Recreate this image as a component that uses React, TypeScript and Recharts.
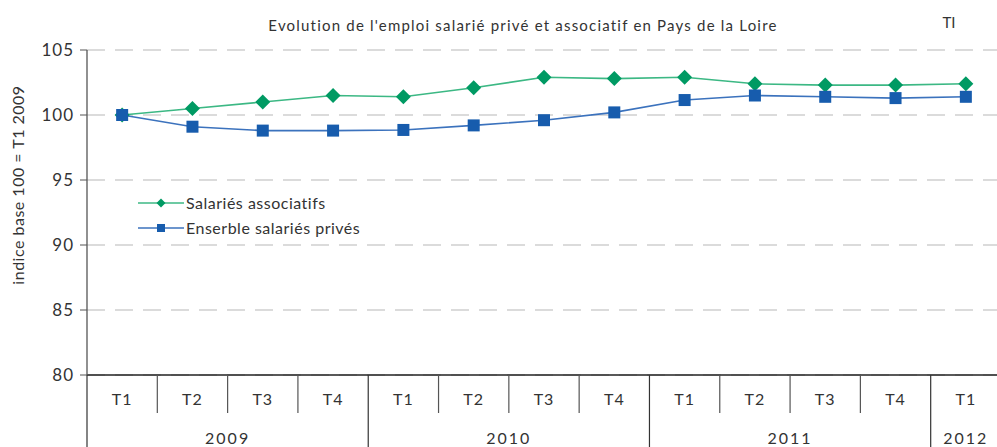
import React from "react";
import { CartesianGrid, Line, LineChart, XAxis, YAxis } from "recharts";

const quarters = ["T1", "T2", "T3", "T4", "T1", "T2", "T3", "T4", "T1", "T2", "T3", "T4", "T1"];
const years = ["2009", "2010", "2011", "2012"];
const yearSpans = [4, 4, 4, 1];
const associatifs = [100.0, 100.5, 101.0, 101.5, 101.4, 102.1, 102.9, 102.8, 102.9, 102.4, 102.3, 102.3, 102.4];
const prives = [100.0, 99.1, 98.8, 98.8, 98.85, 99.2, 99.6, 100.2, 101.15, 101.5, 101.4, 101.3, 101.4];
const yTicks = [80, 85, 90, 95, 100, 105];
const seriesNames = ["Salariés associatifs", "Enserble salariés privés"];

const data = quarters.map((q, i) => ({
  q: `${q}-${i}`,
  associatifs: associatifs[i],
  prives: prives[i],
}));

// index where each year starts
const yearStarts = yearSpans.reduce<number[]>((acc, _s, i) => {
  acc.push(i === 0 ? 0 : acc[i - 1] + yearSpans[i - 1]);
  return acc;
}, []);

const W = 1010;
const H = 447;
const LEFT = 87;
const RIGHT = 9;
const TOP = 50;
const XH = 72;
const STEP = (W - LEFT - RIGHT) / quarters.length;

const FONT = "Lato, 'DejaVu Sans', sans-serif";
const TEXT = "#333";
const GREEN = "#009a63";
const GREEN_LINE = "#3cb884";
const BLUE = "#175cad";
const BLUE_LINE = "#3b72bd";

function QuarterTick(props: any) {
  const { x, y, payload } = props;
  const i = payload.index as number;
  const left = x - STEP / 2;
  const yi = yearStarts.indexOf(i);
  return (
    <g>
      <line
        x1={left}
        x2={left}
        y1={y}
        y2={yi >= 0 ? H : y + 38}
        stroke={yi >= 0 ? "#333" : "#555"}
        strokeWidth={1.2}
      />
      <text x={x} y={y + 30} textAnchor="middle" fontSize={16} fill={TEXT} fontFamily={FONT} letterSpacing={1}>
        {quarters[i]}
      </text>
      {yi >= 0 && (
        <text
          x={left + (yearSpans[yi] * STEP) / 2}
          y={y + 69}
          textAnchor="middle"
          fontSize={16}
          fill={TEXT}
          fontFamily={FONT}
          letterSpacing={2}
        >
          {years[yi]}
        </text>
      )}
    </g>
  );
}

function Diamond(props: any) {
  const { cx, cy } = props;
  if (cx == null || cy == null) return <g />;
  const r = 7.5;
  return <path d={`M${cx},${cy - r}L${cx + r},${cy}L${cx},${cy + r}L${cx - r},${cy}Z`} fill={GREEN} />;
}

function Square(props: any) {
  const { cx, cy } = props;
  if (cx == null || cy == null) return <g />;
  return <rect x={cx - 6} y={cy - 6} width={12} height={12} fill={BLUE} />;
}

export default function App() {
  return (
    <div
      style={{
        position: "absolute",
        left: 0,
        top: 0,
        width: 997,
        height: H,
        overflow: "hidden",
        background: "#fff",
      }}
    >
      <LineChart width={W} height={H} data={data} margin={{ top: TOP, right: RIGHT, bottom: 0, left: 0 }}>
        <text x={523} y={31} textAnchor="middle" fontSize={15} fill={TEXT} fontFamily={FONT} letterSpacing={1.2}>
          Evolution de l'emploi salarié privé et associatif en Pays de la Loire
        </text>
        <text x={949} y={28} textAnchor="middle" fontSize={15} fill={TEXT} fontFamily={FONT}>
          TI
        </text>
        <text
          transform="translate(24,185) rotate(-90)"
          textAnchor="middle"
          fontSize={16}
          fill={TEXT}
          fontFamily={FONT}
          letterSpacing={0.5}
        >
          indice base 100 = T1 2009
        </text>
        <CartesianGrid vertical={false} stroke="#cfcfcf" strokeDasharray="18 10" strokeWidth={1.3} />
        <XAxis
          dataKey="q"
          scale="band"
          height={XH}
          interval={0}
          tickLine={false}
          tickSize={0}
          tickMargin={0}
          axisLine={{ stroke: "#222", strokeWidth: 1.3 }}
          tick={<QuarterTick />}
        />
        <YAxis
          width={LEFT}
          domain={[80, 105]}
          ticks={yTicks}
          interval={0}
          tickSize={7}
          tickMargin={6}
          axisLine={{ stroke: "#555", strokeWidth: 1.3 }}
          tickLine={{ stroke: "#555" }}
          tick={{ fontSize: 17, fill: TEXT, fontFamily: FONT, letterSpacing: 1 }}
        />
        <Line
          dataKey="associatifs"
          name={seriesNames[0]}
          stroke={GREEN_LINE}
          strokeWidth={1.6}
          dot={<Diamond />}
          activeDot={false}
          isAnimationActive={false}
        />
        <Line
          dataKey="prives"
          name={seriesNames[1]}
          stroke={BLUE_LINE}
          strokeWidth={1.6}
          dot={<Square />}
          activeDot={false}
          isAnimationActive={false}
        />
        {/* legend */}
        <g fontFamily={FONT} fontSize={16} fill={TEXT} letterSpacing={0.5}>
          <line x1={138} x2={184} y1={203} y2={203} stroke={GREEN_LINE} strokeWidth={1.5} />
          <path d="M161,198.5L165.5,203L161,207.5L156.5,203Z" fill={GREEN} />
          <text x={186} y={209}>{seriesNames[0]}</text>
          <line x1={138} x2={184} y1={228} y2={228} stroke={BLUE_LINE} strokeWidth={1.5} />
          <rect x={157} y={224} width={8} height={8} fill={BLUE} />
          <text x={186} y={234}>{seriesNames[1]}</text>
        </g>
      </LineChart>
    </div>
  );
}
